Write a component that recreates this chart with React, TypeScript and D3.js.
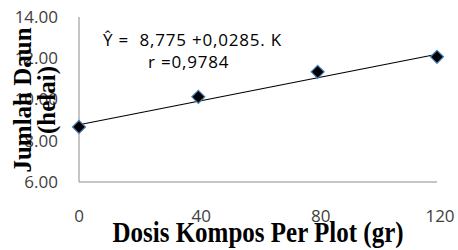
import React from 'react';
import * as d3 from 'd3';

const doses = [0, 40, 80, 120];
const leafCounts = [8.67, 10.13, 11.34, 12.07];
const yTicks = [6, 8, 10, 12, 14];
const intercept = 8.775;
const slope = 0.0285;

const width = 458;
const height = 250;
const margin = { top: 17, right: 21, bottom: 68, left: 79 };

const tickStyle = { fontFamily: 'Open Sans, sans-serif', fontSize: 17, fill: '#404040' };
const noteStyle = { fontFamily: 'Open Sans, sans-serif', fontSize: 17, fill: '#000', letterSpacing: 0.8, whiteSpace: 'pre' as const };
const titleStyle = { fontFamily: 'Liberation Serif, serif', fontWeight: 'bold' as const, fontSize: 25, fill: '#000' };

const App: React.FC = () => {
  const innerW = width - margin.left - margin.right;
  const innerH = height - margin.top - margin.bottom;

  const x = d3.scaleLinear().domain([0, 120]).range([0, innerW]);
  const y = d3.scaleLinear().domain([6, 14]).range([innerH, 0]);

  const trend = d3.line<number>()
    .x(d => x(d))
    .y(d => y(intercept + slope * d))([0, 120]) || '';

  const r = 6.5;
  const diamond = `M0,${-r}L${r},0L0,${r}L${-r},0Z`;

  return (
    <svg width={width} height={height} style={{ position: 'absolute', left: 0, top: 0, background: '#fff' }}>
      <g transform={`translate(${margin.left},${margin.top})`}>
        {/* axes */}
        <line x1={0} x2={0} y1={0} y2={innerH} stroke="#8c8c8c" strokeWidth={1} />
        <line x1={0} x2={innerW} y1={innerH} y2={innerH} stroke="#8c8c8c" strokeWidth={1} />

        {yTicks.map(t => (
          <text key={t} x={-21} y={y(t)} dy="0.35em" textAnchor="end" style={tickStyle}>
            {t.toFixed(2)}
          </text>
        ))}

        {doses.map(d => (
          <text key={d} x={x(d) + (d === 0 ? 0 : 3)} y={innerH + 40} textAnchor="middle" style={tickStyle}>
            {d}
          </text>
        ))}

        <path d={trend} fill="none" stroke="#000" strokeWidth={1.2} />

        {doses.map((d, i) => (
          <path key={d} d={diamond} transform={`translate(${x(d)},${y(leafCounts[i])})`}
            fill="#000" stroke="#4a7ebb" strokeWidth={1.2} />
        ))}

        <text x={24} y={29} style={noteStyle}>{'Ŷ =  8,775 +0,0285. K'}</text>
        <text x={69} y={51} style={noteStyle}>{'r =0,9784'}</text>
      </g>

      <text transform="translate(31,100) rotate(-90)" textAnchor="middle" style={titleStyle}>
        Jumlah Daun
      </text>
      <text transform="translate(55,100) rotate(-90)" textAnchor="middle" style={titleStyle}>
        (helai)
      </text>

      <text transform="translate(258,242) scale(1,1.15)" textAnchor="middle" style={titleStyle}>
        Dosis Kompos Per Plot (gr)
      </text>
    </svg>
  );
};

export default App;
